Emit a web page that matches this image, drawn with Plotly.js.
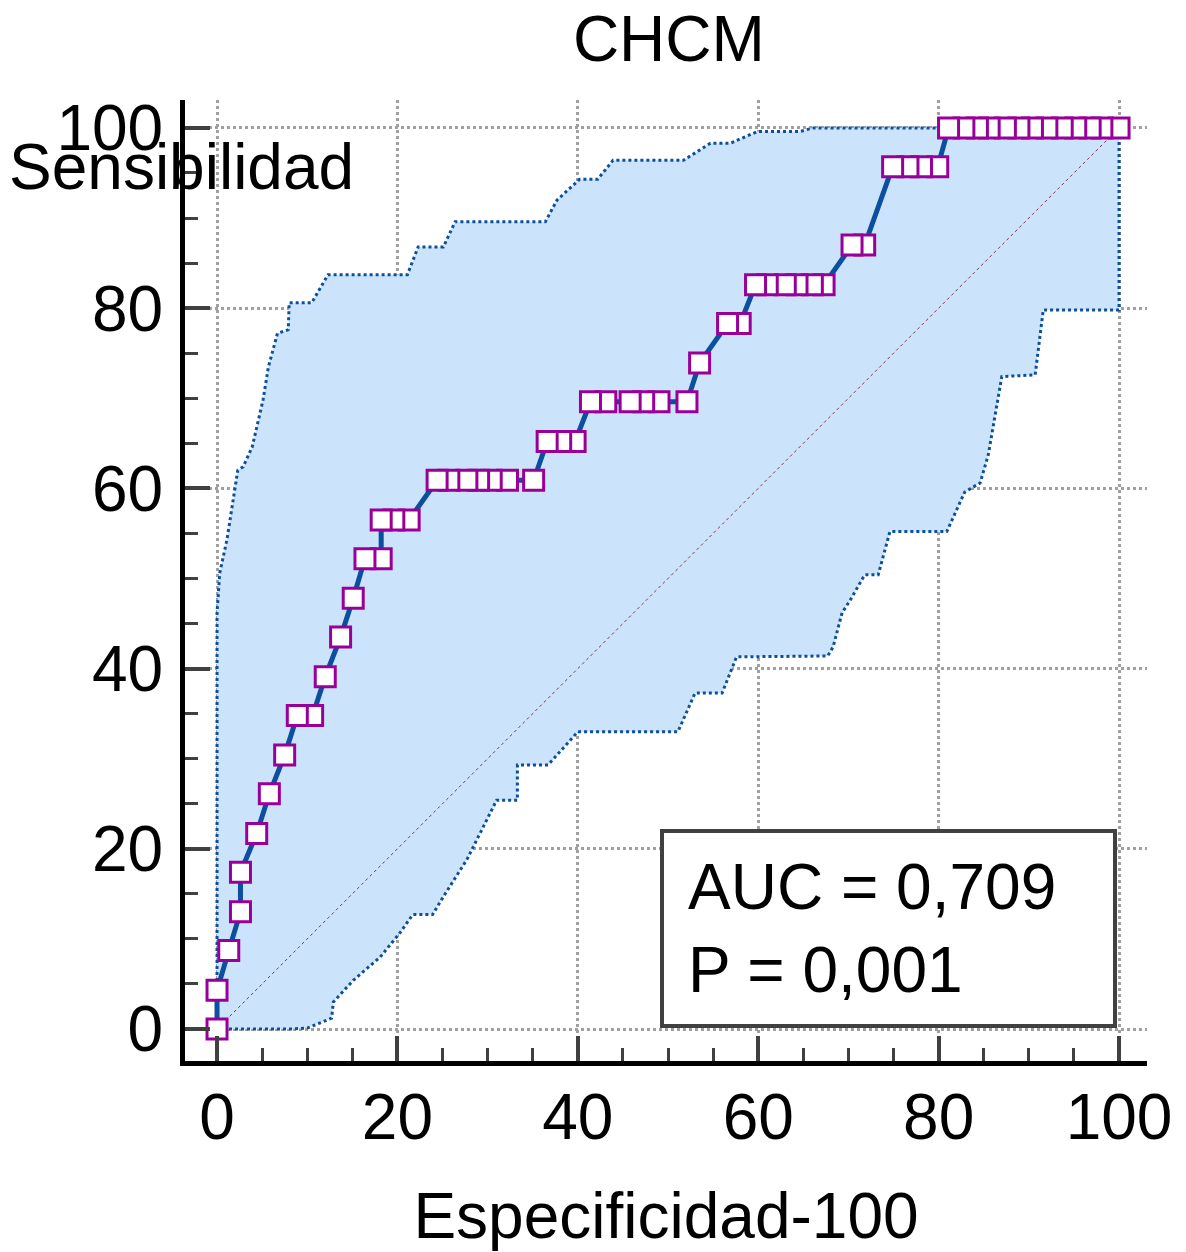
<!DOCTYPE html>
<html>
<head>
<meta charset="utf-8">
<script src="https://cdn.plot.ly/plotly-3.0.1.min.js"></script>
<style>html,body{margin:0;padding:0;background:#fff;}#chart{width:1186px;height:1252px;}</style>
</head>
<body>
<div id="chart"></div>
<script>
// ROC curve points: 100 - specificity (x) and sensitivity (y)
const rocX = [0, 0, 1.3, 2.6, 2.6, 4.4, 5.8, 7.5, 8.9, 10.6, 12.0, 13.7, 15.1, 16.4, 18.2, 18.2, 19.6, 21.3,
  24.4, 25.7, 27.7, 29.0, 30.4, 32.2, 35.1, 36.6, 38.1, 39.7, 41.4, 43.1, 45.8, 47.3, 49.0, 52.1, 53.5,
  56.6, 58.0, 59.7, 61.0, 63.0, 64.3, 66.0, 67.3, 70.4, 71.8, 74.9, 76.6, 78.1, 79.9,
  81.1, 82.8, 84.3, 85.6, 87.4, 88.9, 90.4, 92.0, 93.7, 95.2, 96.8, 98.1, 100];
const rocY = [0, 4.3, 8.7, 13.0, 17.4, 21.7, 26.1, 30.4, 34.8, 34.8, 39.1, 43.5, 47.8, 52.2, 52.2, 56.5, 56.5, 56.5,
  60.9, 60.9, 60.9, 60.9, 60.9, 60.9, 60.9, 65.2, 65.2, 65.2, 69.6, 69.6, 69.6, 69.6, 69.6, 69.6, 73.9,
  78.3, 78.3, 82.6, 82.6, 82.6, 82.6, 82.6, 82.6, 87.0, 87.0, 95.7, 95.7, 95.7, 95.7,
  100, 100, 100, 100, 100, 100, 100, 100, 100, 100, 100, 100, 100];

// Upper confidence bound
const upperX = [0, 0, 0.3, 1.1, 2.3, 2.9, 3.9, 5.1, 5.7, 6.7, 7.9, 8.0, 10.5, 12.3, 21.1, 22.3, 25.1, 26.4,
  36.4, 37.7, 40.2, 42.2, 43.9, 51.7, 54.7, 56.9, 59.9, 64.6, 66.1, 100];
const upperY = [0, 46.2, 50.6, 54.3, 62.0, 62.4, 64.6, 69.8, 73.5, 77.2, 77.6, 80.6, 80.6, 83.7, 83.7, 86.8, 86.8, 89.6,
  89.6, 92.0, 94.3, 94.3, 96.4, 96.4, 98.3, 98.3, 99.6, 99.6, 100, 100];

// Lower confidence bound
const lowerX = [0, 8.1, 10.0, 11.6, 12.7, 12.9, 15.1, 18.1, 20.3, 21.7, 23.9, 25.1, 27.7, 29.2, 31.0, 33.3, 33.3,
  36.7, 40.0, 51.1, 53.0, 56.0, 57.6, 67.7, 68.3, 69.3, 70.2, 71.8, 73.3, 74.6, 80.9, 82.9, 84.6, 85.5,
  87.0, 90.7, 91.6, 100, 100];
const lowerY = [0, 0, 0.1, 0.8, 1.2, 3.0, 5.4, 8.0, 10.7, 12.7, 12.7, 14.7, 18.8, 21.8, 25.4, 25.4, 29.3,
  29.3, 33.0, 33.0, 37.3, 37.3, 41.3, 41.4, 42.4, 46.2, 47.6, 50.4, 50.4, 55.2, 55.2, 59.6, 60.6, 63.7,
  72.4, 72.6, 79.8, 79.8, 100];

// Reference diagonal
const diagX = [0, 100];
const diagY = [0, 100];

const chartTitle = 'CHCM';
const xTitle = 'Especificidad-100';
const yTitle = 'Sensibilidad';
const aucText = 'AUC = 0,709';
const pText = 'P = 0,001';

const FONT = 'Liberation Sans, Arial, sans-serif';
const BLUE = '#0b4f9e';

const bandX = upperX.concat(lowerX.slice().reverse());
const bandY = upperY.concat(lowerY.slice().reverse());

const traces = [
  {x: bandX, y: bandY, type: 'scatter', mode: 'lines', fill: 'toself', fillcolor: '#cce4fb',
   line: {width: 0, color: 'rgba(0,0,0,0)'}, hoverinfo: 'skip', showlegend: false},
  {x: diagX, y: diagY, type: 'scatter', mode: 'lines', line: {color: '#8a3048', width: 1, dash: 'dot'}, showlegend: false},
  {x: upperX, y: upperY, type: 'scatter', mode: 'lines', line: {color: BLUE, width: 3, dash: 'dot'}, showlegend: false},
  {x: lowerX, y: lowerY, type: 'scatter', mode: 'lines', line: {color: BLUE, width: 3, dash: 'dot'}, showlegend: false},
  {x: rocX, y: rocY, type: 'scatter', mode: 'lines', line: {color: BLUE, width: 5}, showlegend: false},
  {x: rocX.slice().reverse(), y: rocY.slice().reverse(), type: 'scatter', mode: 'markers',
   marker: {symbol: 'square', size: 20, color: '#ffffff', line: {color: '#990099', width: 3}}, showlegend: false}
];

function axis(titleObj) {
  return {
    range: [-3.55, 103.1], tick0: 0, dtick: 20,
    ticks: 'inside', ticklen: 25, tickwidth: 4, tickcolor: '#404040',
    showline: true, linewidth: 5, linecolor: '#000000',
    showgrid: true, gridcolor: '#a0a0a0', gridwidth: 3, griddash: 'dot',
    zeroline: false,
    minor: {tick0: 0, dtick: 5, ticks: 'inside', ticklen: 13, tickwidth: 3, tickcolor: '#404040', showgrid: false},
    tickfont: {family: FONT, size: 64, color: '#000'},
    automargin: false,
    title: titleObj,
    fixedrange: true
  };
}

const layout = {
  width: 1186, height: 1252,
  margin: {l: 185, r: 39, t: 100, b: 191, pad: 0},
  paper_bgcolor: '#ffffff', plot_bgcolor: '#ffffff',
  font: {family: FONT, size: 64, color: '#000'},
  showlegend: false,
  title: {text: chartTitle, font: {family: FONT, size: 64, color: '#000'}, xref: 'paper', x: 0.503, xanchor: 'center',
          yref: 'container', y: 0.969, yanchor: 'middle'},
  xaxis: Object.assign(axis({text: xTitle, font: {family: FONT, size: 64, color: '#000'}, standoff: 50}), {ticklabelstandoff: -4}),
  yaxis: Object.assign(axis({text: ''}), {ticklabelstandoff: 4}),
  annotations: [
    {text: yTitle, xref: 'paper', yref: 'paper', x: -0.185, y: 0.93, xanchor: 'left', yanchor: 'middle',
     showarrow: false, font: {family: FONT, size: 64, color: '#000'}},
    {text: aucText + '<br>' + pText, xref: 'paper', yref: 'paper', x: 0.969, y: 0.034, xanchor: 'right', yanchor: 'bottom',
     showarrow: false, align: 'left', valign: 'middle', width: 401, height: 143, borderpad: 24, borderwidth: 4,
     bordercolor: '#404040', bgcolor: '#ffffff', font: {family: FONT, size: 64, color: '#000'}}
  ]
};

Plotly.newPlot('chart', traces, layout, {displayModeBar: false, staticPlot: true});
</script>
</body>
</html>
